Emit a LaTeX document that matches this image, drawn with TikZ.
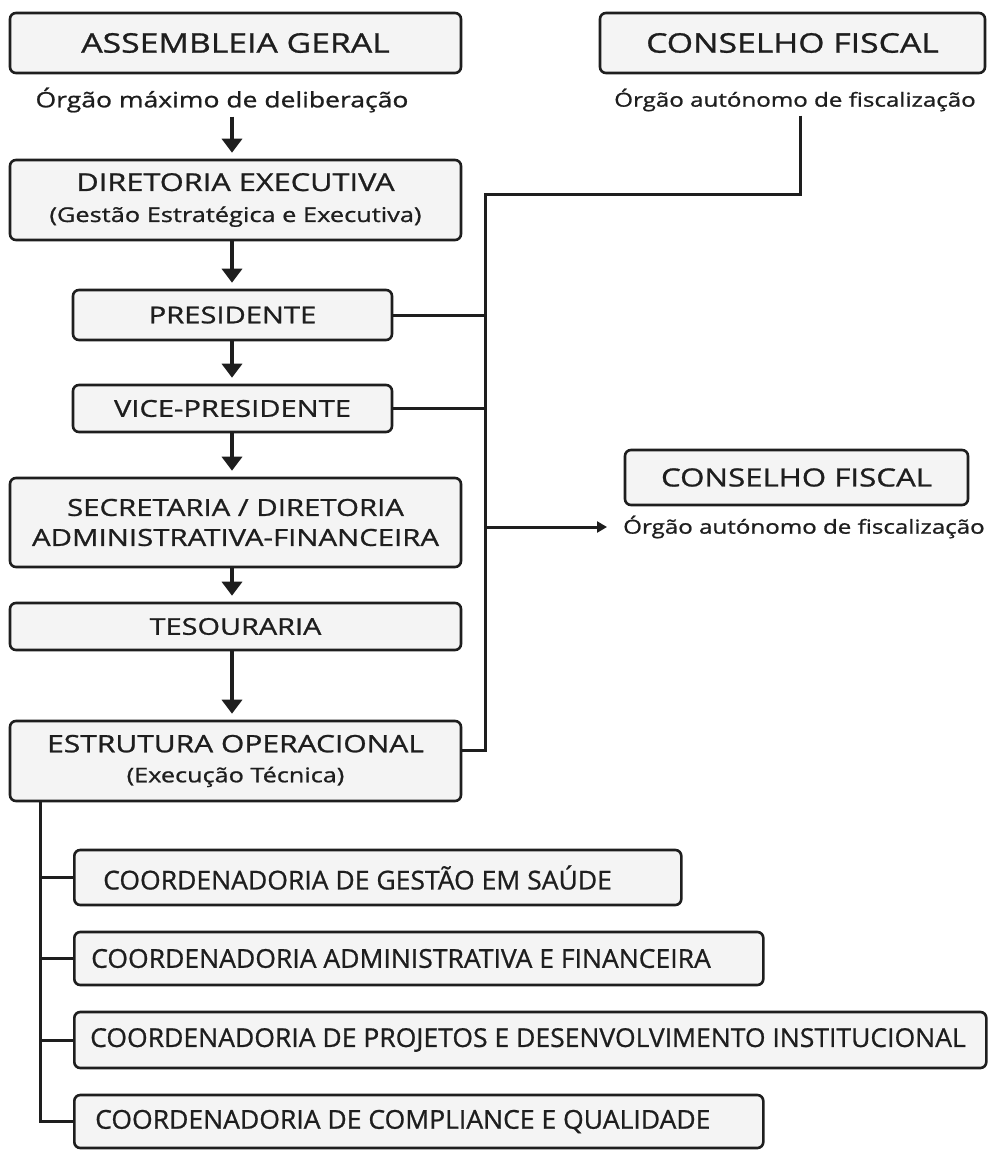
\documentclass[tikz,border=0pt]{standalone}
\usepackage{fontspec}
\setmainfont{Open Sans}
\newfontfamily\hf[FakeStretch=1.25,FakeBold=1.0]{Open Sans}
\newfontfamily\cnd[FakeStretch=1.02,FakeBold=0.8]{Open Sans}
\usetikzlibrary{arrows.meta}
\definecolor{boxfill}{RGB}{244,244,244}
\definecolor{ink}{RGB}{30,30,30}
\begin{document}
\begin{tikzpicture}[x=1pt,y=-1pt,
  box/.style={draw=ink, line width=2.6pt, rounded corners=6pt, fill=boxfill, inner sep=0pt, align=center, text=ink},
  sub/.style={inner sep=0pt, text=ink},
  ctext/.style={inner sep=0pt, anchor=west, font=\cnd\fontsize{26}{30}\selectfont, text=ink},
  arr/.style={draw=ink, line width=3.5pt, -{Triangle[width=20pt,length=14pt]}, shorten >=6pt},
  ln/.style={draw=ink, line width=3pt}]
\useasboundingbox[fill=white] (0,0) rectangle (995,1150);

% left column
\node[box, minimum width=451pt, minimum height=60pt, font=\hf\fontsize{27}{32}\selectfont] (ag) at (235.5,43) {ASSEMBLEIA GERAL};
\node[sub, font=\hf\fontsize{21.2}{26}\selectfont] (agsub) at (222,100) {Órgão máximo de deliberação};
\node[box, minimum width=451pt, minimum height=80pt, font=\hf\fontsize{24.6}{31}\selectfont] (de) at (235.5,200) {DIRETORIA EXECUTIVA\\{\fontsize{20.3}{31}\selectfont (Gestão Estratégica e Executiva)}};
\node[box, minimum width=319pt, minimum height=50pt, font=\hf\fontsize{23.3}{30}\selectfont] (pres) at (232.5,315) {PRESIDENTE};
\node[box, minimum width=319pt, minimum height=47pt, font=\hf\fontsize{23.3}{30}\selectfont] (vp) at (232.5,408.5) {VICE-PRESIDENTE};
\node[box, minimum width=451pt, minimum height=89pt, font=\hf\fontsize{23.5}{30}\selectfont] (sec) at (235.5,522.5) {SECRETARIA / DIRETORIA\\ADMINISTRATIVA-FINANCEIRA};
\node[box, minimum width=451pt, minimum height=47pt, font=\hf\fontsize{23.1}{30}\selectfont] (tes) at (235.5,626.5) {TESOURARIA};
\node[box, minimum width=451pt, minimum height=80pt, font=\hf\fontsize{24}{30}\selectfont] (est) at (235.5,761) {ESTRUTURA OPERACIONAL\\{\fontsize{20.2}{30}\selectfont (Execução Técnica)}};

% right column
\node[box, minimum width=385pt, minimum height=60pt, font=\hf\fontsize{27}{32}\selectfont] (cf1) at (792.5,43) {CONSELHO FISCAL};
\node[sub, font=\hf\fontsize{19.3}{24}\selectfont] (cf1sub) at (795,100) {Órgão autónomo de fiscalização};
\node[box, minimum width=343pt, minimum height=55pt, font=\hf\fontsize{25}{30}\selectfont] (cf2) at (796.5,477.5) {CONSELHO FISCAL};
\node[sub, anchor=west, font=\hf\fontsize{19.3}{24}\selectfont] (cf2sub) at (623,527) {Órgão autónomo de fiscalização};

% coordenadorias
\node[box, anchor=west, minimum width=607pt, minimum height=55pt] (c1) at (73,877.5) {};
\node[ctext] (t1) at ([xshift=30pt]c1.west) {COORDENADORIA DE GESTÃO EM SAÚDE};
\node[box, anchor=west, minimum width=689pt, minimum height=53pt] (c2) at (73,958.5) {};
\node[ctext] (t2) at ([xshift=18pt]c2.west) {COORDENADORIA ADMINISTRATIVA E FINANCEIRA};
\node[box, anchor=west, minimum width=912pt, minimum height=56pt] (c3) at (73,1040) {};
\node[ctext] (t3) at ([xshift=17pt]c3.west) {COORDENADORIA DE PROJETOS E DESENVOLVIMENTO INSTITUCIONAL};
\node[box, anchor=west, minimum width=689pt, minimum height=53pt] (c4) at (73,1121.5) {};
\node[ctext] (t4) at ([xshift=22pt]c4.west) {COORDENADORIA DE COMPLIANCE E QUALIDADE};

% vertical arrows
\draw[arr] ([yshift=-4pt]agsub.south -| 232,0) -- (de.north -| 232,0);
\draw[arr] (de.south -| 232,0) -- (pres.north -| 232,0);
\draw[arr] (pres.south -| 232,0) -- (vp.north -| 232,0);
\draw[arr] (vp.south -| 232,0) -- (sec.north -| 232,0);
\draw[arr] (sec.south -| 232,0) -- (tes.north -| 232,0);
\draw[arr] (tes.south -| 232,0) -- (est.north -| 232,0);

% fiscal connector
\coordinate (tt) at (485,195);
\coordinate (tb) at (485,750);
\draw[ln] ([xshift=5pt,yshift=-4pt]cf1sub.south) |- (tt) -- (tb) -- (tb -| est.east);
\draw[ln] (pres.east) -- (pres.east -| tt);
\draw[ln] (vp.east) -- (vp.east -| tt);
\draw[ln, -{Triangle[width=11pt,length=10pt]}, shorten >=16pt] (tt |- cf2sub.west) -- (cf2sub.west);

% left trunk
\coordinate (lt) at (40,802);
\draw[ln] (lt) |- (c4.west);
\draw[ln] (c1.west -| lt) -- (c1.west);
\draw[ln] (c2.west -| lt) -- (c2.west);
\draw[ln] (c3.west -| lt) -- (c3.west);
\end{tikzpicture}
\end{document}
